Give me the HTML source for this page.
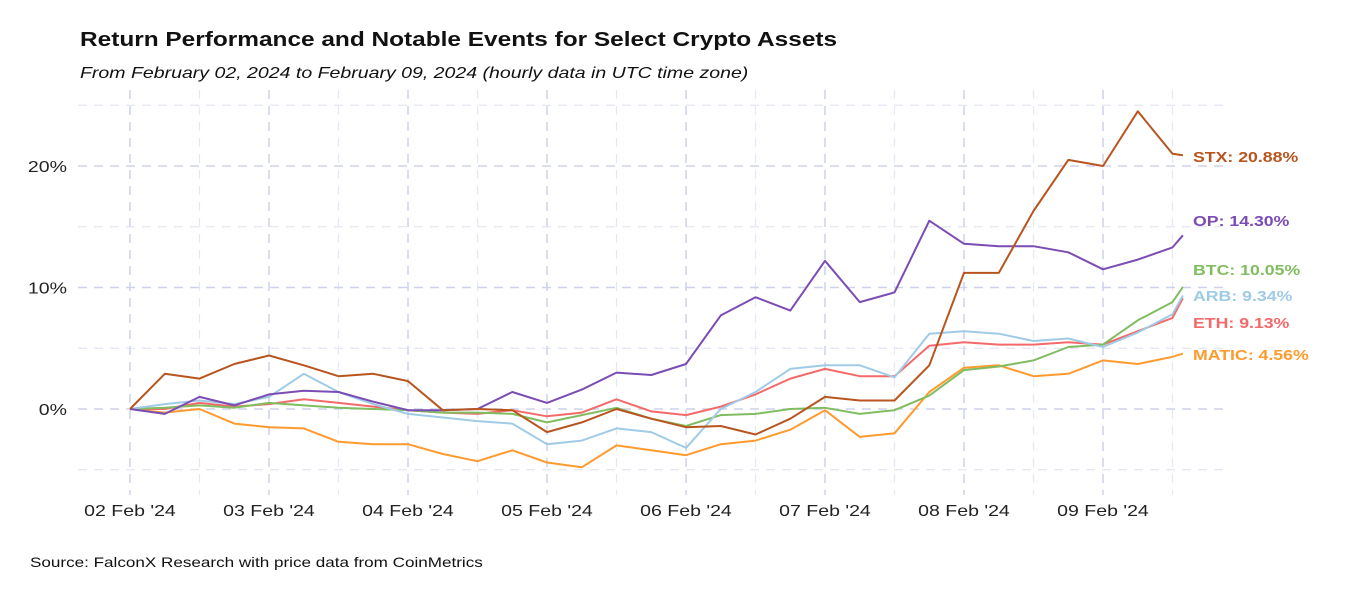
<!DOCTYPE html>
<html><head><meta charset="utf-8"><style>
body{margin:0;background:#fff;width:1350px;height:600px;overflow:hidden;font-family:"Liberation Sans",sans-serif}
</style></head><body>
<svg width="1350" height="600" xmlns="http://www.w3.org/2000/svg" font-family="Liberation Sans, sans-serif">
<text x="80" y="46" font-size="20" font-weight="bold" fill="#111">Return Performance and Notable Events for Select Crypto Assets</text>
<text x="80" y="78" font-size="16" font-style="italic" fill="#111">From February 02, 2024 to February 09, 2024 (hourly data in UTC time zone)</text>
<text x="30" y="567" font-size="14" fill="#111">Source: FalconX Research with price data from CoinMetrics</text>
<g id="grid"></g>
<g id="axes"></g>
<g id="series"></g>
<g id="labels"></g>
</svg>
<script>
const days = [0,0.25,0.5,0.75,1,1.25,1.5,1.75,2,2.25,2.5,2.75,3,3.25,3.5,3.75,4,4.25,4.5,4.75,5,5.25,5.5,5.75,6,6.25,6.5,6.75,7,7.25,7.5,7.575];
const stx = [0,2.9,2.5,3.7,4.4,3.6,2.7,2.9,2.3,-0.1,0,-0.1,-1.9,-1.1,0,-0.8,-1.5,-1.4,-2.1,-0.8,1.0,0.7,0.7,3.6,11.2,11.2,16.3,20.5,20.0,24.5,21.0,20.88];
const op = [0,-0.4,1.0,0.3,1.2,1.5,1.4,0.6,-0.1,-0.1,0,1.4,0.5,1.6,3.0,2.8,3.7,7.7,9.2,8.1,12.2,8.8,9.6,15.5,13.6,13.4,13.4,12.9,11.5,12.3,13.3,14.3];
const btc = [0,0.1,0.3,0.1,0.5,0.3,0.1,0,-0.1,-0.3,-0.3,-0.4,-1.1,-0.5,0.1,-0.8,-1.4,-0.5,-0.4,0,0.1,-0.4,-0.1,1.1,3.2,3.5,4.0,5.1,5.3,7.3,8.8,10.05];
const arb = [0,0.4,0.7,0.4,1.0,2.9,1.4,0.4,-0.4,-0.7,-1.0,-1.2,-2.9,-2.6,-1.6,-1.9,-3.2,0,1.4,3.3,3.6,3.6,2.6,6.2,6.4,6.2,5.6,5.8,5.1,6.3,7.8,9.34];
const eth = [0,0,0.5,0.2,0.4,0.8,0.5,0.2,-0.1,-0.3,-0.4,-0.1,-0.6,-0.3,0.8,-0.2,-0.5,0.2,1.2,2.5,3.3,2.7,2.7,5.2,5.5,5.3,5.3,5.5,5.3,6.4,7.5,9.13];
const matic = [0,-0.3,0,-1.2,-1.5,-1.6,-2.7,-2.9,-2.9,-3.7,-4.3,-3.4,-4.4,-4.8,-3.0,-3.4,-3.8,-2.9,-2.6,-1.7,-0.1,-2.3,-2.0,1.4,3.4,3.6,2.7,2.9,4.0,3.7,4.3,4.56];
const xTickLabels = ["02 Feb '24","03 Feb '24","04 Feb '24","05 Feb '24","06 Feb '24","07 Feb '24","08 Feb '24","09 Feb '24"];
const yTicks = [0,10,20];
const yMinor = [-5,5,15,25];
const seriesNames = ["STX","OP","BTC","ARB","ETH","MATIC"];

const NS="http://www.w3.org/2000/svg";
const X = d => 130 + d*139;
const Y = v => 409 - v*12.15;
function mk(tag, attrs, parent){const e=document.createElementNS(NS,tag);for(const k in attrs)e.setAttribute(k,attrs[k]);parent.appendChild(e);return e;}
const grid=document.getElementById('grid'), axes=document.getElementById('axes'), ser=document.getElementById('series'), lab=document.getElementById('labels');
yMinor.forEach(v=>{const l=mk('line',{x1:78,x2:1230,y1:Y(v),y2:Y(v),stroke:'#e3e6f4','stroke-width':1.3,'stroke-dasharray':'9,7'},grid);

});
for(let i=0;i<8;i++){const l=mk('line',{x1:X(i+0.5),x2:X(i+0.5),y1:90,y2:495,stroke:'#e6e8f5','stroke-width':1.2,'stroke-dasharray':'9,7'},grid);

}
yTicks.forEach(v=>{const l=mk('line',{x1:78,x2:1230,y1:Y(v),y2:Y(v),stroke:'#cdd2ec','stroke-width':1.5,'stroke-dasharray':'9,7'},grid);


const t=mk('text',{x:67,y:Y(v)+6,'text-anchor':'end','font-size':16,fill:'#222'},axes);t.textContent=v+'%';

});
xTickLabels.forEach((s,i)=>{const l=mk('line',{x1:X(i),x2:X(i),y1:90,y2:495,stroke:'#cdd2ec','stroke-width':1.5,'stroke-dasharray':'9,7'},grid);


const t=mk('text',{x:X(i),y:516,'text-anchor':'middle','font-size':16,fill:'#222'},axes);t.textContent=s;

});
const data=[matic,eth,btc,arb,op,stx];
const names=["MATIC","ETH","BTC","ARB","OP","STX"];
const colors=["#ff9a2e","#f46a6a","#80bd61","#9fcbe6","#7b4cb3","#b8551f"];
const labelY=[355,323,270,296,221,157];
data.forEach((arr,k)=>{const d=arr.map((v,i)=>(i?'L':'M')+X(days[i]).toFixed(1)+','+Y(v).toFixed(1)).join(' ');
const p=mk('path',{d:d,fill:'none',stroke:colors[k],'stroke-width':2,'stroke-linejoin':'round'},ser);


const t=mk('text',{x:1193,y:labelY[k]+5,'font-size':14.5,'font-weight':'bold',fill:colors[k]},lab);
t.textContent=names[k]+': '+arr[arr.length-1].toFixed(2)+'%';

});
// reference text is horizontally stretched
document.querySelectorAll('svg text').forEach(t=>{
  const len=t.getComputedTextLength();
  t.setAttribute('textLength',(len*1.22).toFixed(1));
  t.setAttribute('lengthAdjust','spacingAndGlyphs');
});
</script>
</body></html>
